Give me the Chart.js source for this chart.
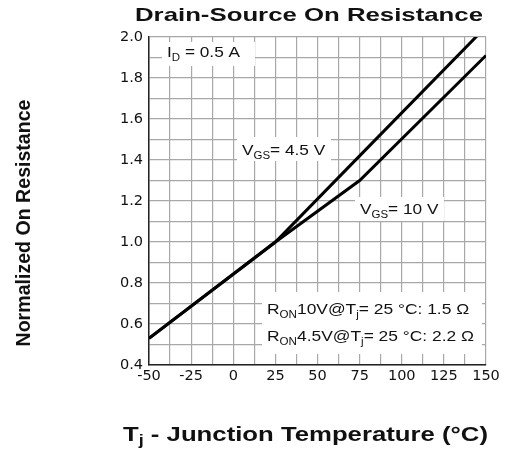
<!DOCTYPE html>
<html><head><meta charset="utf-8">
<script src="https://cdn.jsdelivr.net/npm/chart.js@4/dist/chart.umd.min.js"></script>
<style>html,body{margin:0;padding:0;background:#fff}#c{display:block}</style>
</head><body>
<div style="width:505px;height:450px"><canvas id="c" width="505" height="450"></canvas></div>
<script>
const temps10 = [-50, 25, 75, 150];
const vgs10 = [0.53, 1.0, 1.30, 1.91];
const temps45 = [-50, 25, 75, 150];
const vgs45 = [0.53, 1.0, 1.42, 2.05];
const xTicks = [-50, -25, 0, 25, 50, 75, 100, 125, 150];
const yTicks = ['0.4','0.6','0.8','1.0','1.2','1.4','1.6','1.8','2.0'];

const FONT = '"Liberation Sans", Arial, sans-serif';
const TICKFONT = '"DejaVu Sans", sans-serif';

function drawSub(ctx, parts, x, y, sx) {
  ctx.save();
  ctx.translate(x, y);
  ctx.scale(sx, 1);
  let cx = 0;
  parts.forEach(p => {
    if (p[1]) {
      ctx.font = '10px ' + FONT;
      ctx.fillText(p[0], cx, 4);
    } else {
      ctx.font = '15px ' + FONT;
      ctx.fillText(p[0], cx, 0);
    }
    cx += ctx.measureText(p[0]).width;
  });
  ctx.restore();
}

function fitText(ctx, text, cx, y, width, font) {
  ctx.save();
  ctx.font = font;
  const w = ctx.measureText(text).width;
  ctx.translate(cx, y);
  ctx.scale(width / w, 1);
  ctx.textAlign = 'center';
  ctx.fillText(text, 0, 0);
  ctx.restore();
}

const annot = {
  id: 'annot',
  afterDatasetsDraw(chart) {
    const ctx = chart.ctx;
    ctx.save();
    ctx.fillStyle = '#fff';
    ctx.fillRect(162, 42, 93, 24);
    ctx.fillRect(237, 137, 94, 24);
    ctx.fillRect(355, 197, 89, 24);
    ctx.fillRect(262, 292, 220, 62);
    ctx.fillStyle = '#111';
    ctx.textBaseline = 'alphabetic';
    ctx.textAlign = 'left';
    drawSub(ctx, [['I'], ['D', 1], [' = 0.5 A']], 167, 57, 1.15);
    drawSub(ctx, [['V'], ['GS', 1], ['= 4.5 V']], 242, 155, 1.15);
    drawSub(ctx, [['V'], ['GS', 1], ['= 10 V']], 360, 214, 1.15);
    drawSub(ctx, [['R'], ['ON', 1], ['10V@T'], ['j', 1], ['= 25 \u00b0C: 1.5 \u03a9']], 267, 314, 1.16);
    drawSub(ctx, [['R'], ['ON', 1], ['4.5V@T'], ['j', 1], ['= 25 \u00b0C: 2.2 \u03a9']], 267, 341, 1.16);
    ctx.restore();
  },
  afterDraw(chart) {
    const ctx = chart.ctx;
    ctx.save();
    ctx.fillStyle = '#111';
    ctx.textBaseline = 'alphabetic';
    fitText(ctx, 'Drain-Source On Resistance', 309, 21, 348, 'bold 19px ' + FONT);
    // x title with subscript
    ctx.save();
    ctx.font = 'bold 20px ' + FONT;
    const a = 'T', b = 'j', c = ' - Junction Temperature (\u00b0C)';
    const wa = ctx.measureText(a).width, wc = ctx.measureText(c).width;
    ctx.font = 'bold 14px ' + FONT;
    const wb = ctx.measureText(b).width;
    const tot = wa + wb + wc;
    const sc = 365 / tot;
    ctx.translate(305.5 - 365 / 2, 441);
    ctx.scale(sc, 1);
    ctx.textAlign = 'left';
    ctx.font = 'bold 20px ' + FONT;
    ctx.fillText(a, 0, 0);
    ctx.font = 'bold 14px ' + FONT;
    ctx.fillText(b, wa, 4);
    ctx.font = 'bold 20px ' + FONT;
    ctx.fillText(c, wa + wb, 0);
    ctx.restore();
    // y title
    ctx.save();
    ctx.translate(23, 223);
    ctx.rotate(-Math.PI / 2);
    fitText(ctx, 'Normalized On Resistance', 0, 7, 247, 'bold 20px ' + FONT);
    ctx.restore();
    ctx.restore();
  }
};

new Chart(document.getElementById('c'), {
  type: 'line',
  data: {
    datasets: [
      { label: 'VGS=4.5V', data: temps45.map((x, i) => ({x, y: vgs45[i]})), borderColor: '#000', borderWidth: 3, pointRadius: 0, tension: 0, fill: false },
      { label: 'VGS=10V', data: temps10.map((x, i) => ({x, y: vgs10[i]})), borderColor: '#000', borderWidth: 3, pointRadius: 0, tension: 0, fill: false }
    ]
  },
  options: {
    responsive: false,
    animation: false,
    layout: { padding: { top: 37, right: 19, left: 0, bottom: 0 } },
    plugins: { legend: { display: false }, tooltip: { enabled: false }, title: { display: false } },
    scales: {
      x: {
        type: 'linear', min: -50, max: 150,
        afterFit(s) { s.height = 85; },
        ticks: {
          stepSize: 12.5, autoSkip: false, maxRotation: 0, padding: 3,
          color: '#111', font: { size: 14.5, family: TICKFONT },
          callback: v => (xTicks.includes(v) ? String(v) : '')
        },
        grid: { color: '#a8a8a8', lineWidth: 1.2, drawTicks: false },
        border: { color: '#222', width: 1.5 }
      },
      y: {
        min: 0.4, max: 2.0,
        afterFit(s) { s.width = 149; },
        ticks: {
          stepSize: 0.1, autoSkip: false, padding: 6,
          color: '#111', font: { size: 14.5, family: TICKFONT },
          callback: v => { const s = v.toFixed(1); return yTicks.includes(s) ? s : ''; }
        },
        grid: { color: '#a8a8a8', lineWidth: 1.2, drawTicks: false },
        border: { color: '#222', width: 1.5 }
      }
    }
  },
  plugins: [annot]
});
</script>
</body></html>
